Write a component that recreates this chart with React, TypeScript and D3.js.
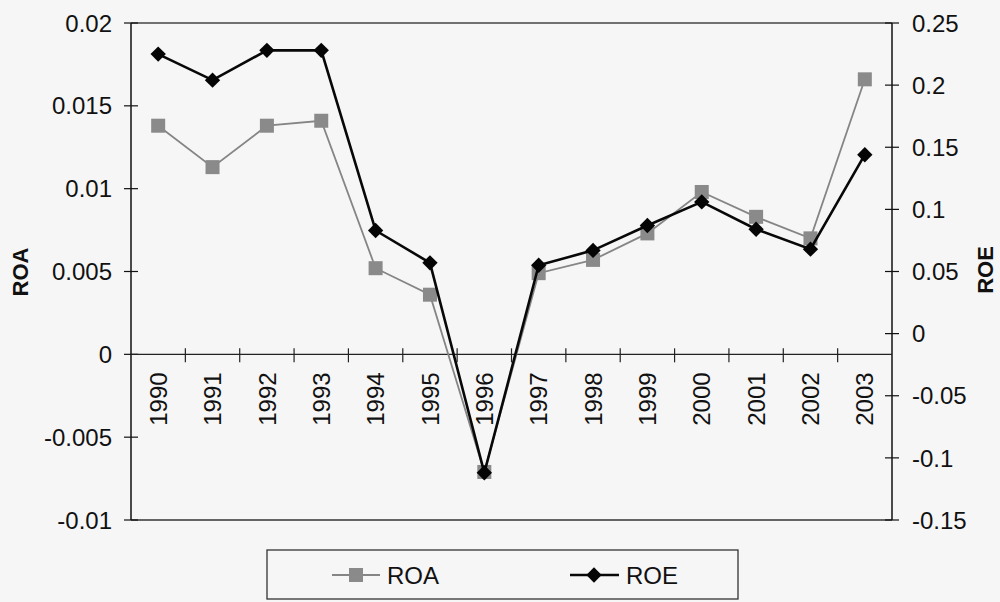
import React, { useEffect, useRef } from "react";
import * as d3 from "d3";

const years = ["1990", "1991", "1992", "1993", "1994", "1995", "1996", "1997", "1998", "1999", "2000", "2001", "2002", "2003"];
const roa = [0.0138, 0.0113, 0.0138, 0.0141, 0.0052, 0.0036, -0.0071, 0.0049, 0.0057, 0.0073, 0.0098, 0.0083, 0.0070, 0.0166];
const roe = [0.225, 0.204, 0.228, 0.228, 0.083, 0.057, -0.112, 0.055, 0.067, 0.087, 0.106, 0.084, 0.068, 0.144];
const leftTicks = [0.02, 0.015, 0.01, 0.005, 0, -0.005, -0.01];
const rightTicks = [0.25, 0.2, 0.15, 0.1, 0.05, 0, -0.05, -0.1, -0.15];

const FONT = "Liberation Sans, Arial, sans-serif";
const FS = 24;

function App() {
  const ref = useRef<SVGSVGElement>(null);

  useEffect(() => {
    const svg = d3.select(ref.current);
    svg.selectAll("*").remove();

    const left = 131, right = 892, top = 23, bottom = 520;

    const x = d3.scaleBand().domain(years).range([left, right]);
    const yL = d3.scaleLinear().domain([-0.01, 0.02]).range([bottom, top]);
    const yR = d3.scaleLinear().domain([-0.15, 0.25]).range([bottom, top]);

    svg.append("rect").attr("width", 1000).attr("height", 602).attr("fill", "#f6f6f6");

    // frame lines top/bottom
    svg.append("line").attr("x1", left).attr("x2", right).attr("y1", top).attr("y2", top)
      .attr("stroke", "#444").attr("stroke-width", 1.5);
    svg.append("line").attr("x1", left).attr("x2", right).attr("y1", bottom).attr("y2", bottom)
      .attr("stroke", "#333").attr("stroke-width", 1.5);

    // left axis
    svg.append("line").attr("x1", left).attr("x2", left).attr("y1", top).attr("y2", bottom)
      .attr("stroke", "#111").attr("stroke-width", 1.5);
    leftTicks.forEach((t) => {
      svg.append("line").attr("x1", left - 7).attr("x2", left + 7).attr("y1", yL(t)).attr("y2", yL(t))
        .attr("stroke", "#111").attr("stroke-width", 1.2);
      svg.append("text").attr("x", left - 19).attr("y", yL(t)).attr("dy", "0.36em")
        .attr("text-anchor", "end").attr("font-family", FONT).attr("font-size", FS).attr("fill", "#111")
        .text(String(t));
    });

    // right axis
    svg.append("line").attr("x1", right).attr("x2", right).attr("y1", top).attr("y2", bottom)
      .attr("stroke", "#111").attr("stroke-width", 1.5);
    rightTicks.forEach((t) => {
      svg.append("line").attr("x1", right - 7).attr("x2", right + 7).attr("y1", yR(t)).attr("y2", yR(t))
        .attr("stroke", "#111").attr("stroke-width", 1.2);
      svg.append("text").attr("x", right + 20).attr("y", yR(t)).attr("dy", "0.36em")
        .attr("text-anchor", "start").attr("font-family", FONT).attr("font-size", FS).attr("fill", "#111")
        .text(String(t));
    });

    // category axis on the zero line
    const y0 = yL(0);
    svg.append("line").attr("x1", left).attr("x2", right).attr("y1", y0).attr("y2", y0)
      .attr("stroke", "#222").attr("stroke-width", 1.2);
    years.forEach((yr, i) => {
      if (i > 0) {
        const tx = x(yr)!;
        svg.append("line").attr("x1", tx).attr("x2", tx).attr("y1", y0 - 6).attr("y2", y0 + 8)
          .attr("stroke", "#222").attr("stroke-width", 1.2);
      }
      const cx = x(yr)! + x.bandwidth() / 2;
      svg.append("text")
        .attr("transform", `translate(${cx},${y0 + 18}) rotate(-90)`)
        .attr("text-anchor", "end").attr("dy", "0.36em")
        .attr("font-family", FONT).attr("font-size", FS).attr("fill", "#111")
        .text(yr);
    });

    // axis titles
    svg.append("text").attr("transform", "translate(20,272) rotate(-90)")
      .attr("text-anchor", "middle").attr("dy", "0.36em")
      .attr("font-family", FONT).attr("font-size", 22).attr("font-weight", "bold").attr("fill", "#111")
      .text("ROA");
    svg.append("text").attr("transform", "translate(985,270) rotate(-90)")
      .attr("text-anchor", "middle").attr("dy", "0.36em")
      .attr("font-family", FONT).attr("font-size", 22).attr("font-weight", "bold").attr("fill", "#111")
      .text("ROE");

    const cxOf = (i: number) => x(years[i])! + x.bandwidth() / 2;

    // ROA
    const lineL = d3.line<number>().x((_, i) => cxOf(i)).y((d) => yL(d));
    svg.append("path").attr("d", lineL(roa)).attr("fill", "none")
      .attr("stroke", "#858585").attr("stroke-width", 1.8);
    svg.selectAll(".sq").data(roa).join("rect")
      .attr("x", (_, i) => cxOf(i) - 7).attr("y", (d) => yL(d) - 7)
      .attr("width", 14).attr("height", 14).attr("fill", "#8a8a8a");

    // ROE
    const lineR = d3.line<number>().x((_, i) => cxOf(i)).y((d) => yR(d));
    svg.append("path").attr("d", lineR(roe)).attr("fill", "none")
      .attr("stroke", "#080808").attr("stroke-width", 2.6);
    const diamond = d3.symbol().type(d3.symbolDiamond2).size(150);
    svg.selectAll(".dm").data(roe).join("path")
      .attr("d", diamond)
      .attr("transform", (d, i) => `translate(${cxOf(i)},${yR(d)})`)
      .attr("fill", "#050505");

    // legend
    svg.append("rect").attr("x", 267).attr("y", 550).attr("width", 471).attr("height", 49)
      .attr("fill", "none").attr("stroke", "#333").attr("stroke-width", 1.3);
    const ly = 575;
    svg.append("line").attr("x1", 332).attr("x2", 380).attr("y1", ly).attr("y2", ly)
      .attr("stroke", "#858585").attr("stroke-width", 1.8);
    svg.append("rect").attr("x", 349).attr("y", ly - 7).attr("width", 14).attr("height", 14).attr("fill", "#8a8a8a");
    svg.append("text").attr("x", 387).attr("y", ly).attr("dy", "0.36em")
      .attr("font-family", FONT).attr("font-size", FS).attr("fill", "#111").text("ROA");
    svg.append("line").attr("x1", 570).attr("x2", 619).attr("y1", ly).attr("y2", ly)
      .attr("stroke", "#080808").attr("stroke-width", 2.6);
    svg.append("path").attr("d", diamond).attr("transform", `translate(594,${ly})`).attr("fill", "#050505");
    svg.append("text").attr("x", 626).attr("y", ly).attr("dy", "0.36em")
      .attr("font-family", FONT).attr("font-size", FS).attr("fill", "#111").text("ROE");
  }, []);

  return (
    <svg ref={ref} width={1000} height={602} style={{ position: "absolute", left: 0, top: 0 }} />
  );
}

export default App;
